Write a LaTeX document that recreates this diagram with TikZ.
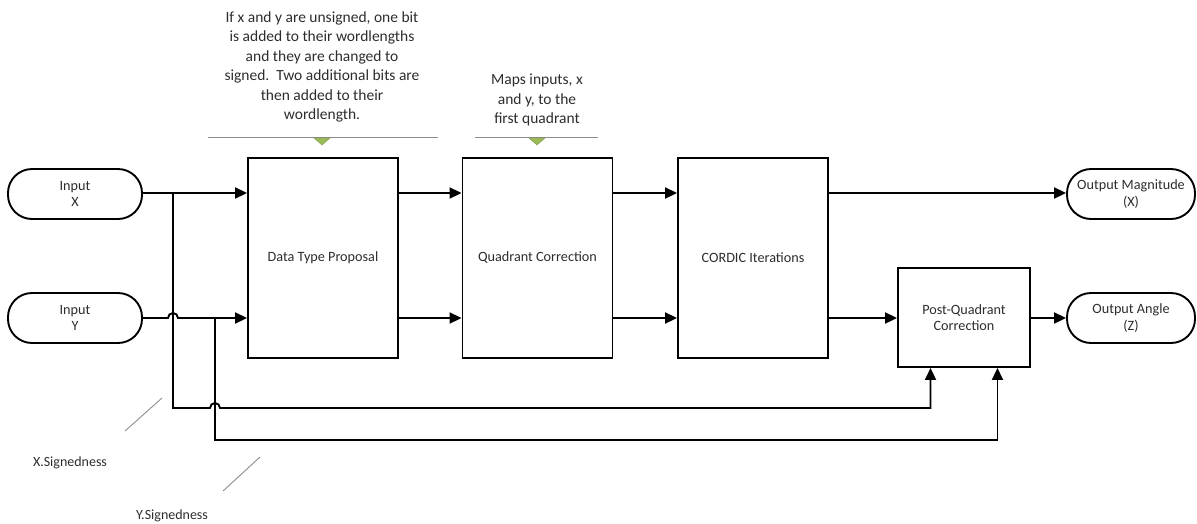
\documentclass[tikz,border=0pt]{standalone}
\usepackage{fontspec}
\setmainfont{Carlito}
\usetikzlibrary{arrows.meta,calc}
\definecolor{txt}{RGB}{45,45,45}
\definecolor{annogreen}{RGB}{155,187,89}
\begin{document}
\begin{tikzpicture}[x=1pt,y=-1pt,
  every node/.style={font=\fontsize{14.2}{16.5}\selectfont, text=txt},
  term/.style={draw=black, line width=1.9pt, rounded corners=24pt, minimum height=50pt, align=center, inner sep=0pt},
  blk/.style={draw=black, line width=1.9pt, align=center, inner sep=0pt},
  ln/.style={draw=black, line width=1.9pt},
  arr/.style={ln, -{Triangle[length=12pt,width=11pt]}},
  anno/.style={draw=black!45, line width=0.9pt},
  tri/.style={fill=annogreen, draw=annogreen!80!black, line width=0.4pt},
  annotext/.style={align=center, font=\fontsize{15.5}{19.5}\selectfont}
]
\useasboundingbox (0,0) rectangle (1197,523);

% terminals
\node[term, minimum width=134pt] (inX) at (75,194) {Input\\X};
\node[term, minimum width=134pt] (inY) at (75,318) {Input\\Y};
\node[term, minimum width=128pt] (outM) at (1131,194) {Output Magnitude\\(X)};
\node[term, minimum width=128pt] (outA) at (1131,318) {Output Angle\\(Z)};

% blocks
\node[blk, minimum width=150pt, minimum height=200pt] (dtp) at (323,258) {Data Type Proposal};
\node[blk, minimum width=150pt, minimum height=200pt] (qc) at (537.5,258) {Quadrant Correction};
\node[blk, minimum width=150pt, minimum height=200pt] (cordic) at (753,258) {CORDIC Iterations};
\node[blk, minimum width=132pt, minimum height=99pt] (pqc) at (964,317.5) {Post-Quadrant\\Correction};

% junctions
\coordinate (jx) at (173,193);
\coordinate (jy) at (215,318);
\coordinate (px) at ($(pqc.south west)!0.25!(pqc.south east)$);
\coordinate (py) at ($(pqc.south west)!0.75!(pqc.south east)$);

% main connectors
\draw[arr] (inX.east |- jx) -- (jx -| dtp.west);
\draw[arr] (inY.east |- jy) -- ([xshift=-5pt]jx |- jy) arc[start angle=180,end angle=0,radius=5pt] -- (jy -| dtp.west);
\draw[arr] (dtp.east |- jx) -- (qc.west |- jx);
\draw[arr] (dtp.east |- jy) -- (qc.west |- jy);
\draw[arr] (qc.east |- jx) -- (cordic.west |- jx);
\draw[arr] (qc.east |- jy) -- (cordic.west |- jy);
\draw[arr] (cordic.east |- jx) -- (outM.west |- jx);
\draw[arr] (cordic.east |- jy) -- (pqc.west |- jy);
\draw[arr] (pqc.east |- jy) -- (outA.west |- jy);

% signedness paths
\coordinate (hx) at (173,408);
\coordinate (hy) at (215,440);
\draw[arr] (jx) -- (hx) -- ([xshift=-5pt]jy |- hx) arc[start angle=180,end angle=0,radius=5pt] -- (px |- hx) -- (px);
\draw[arr] (jy) -- (hy) -- (py |- hy) -- (py);

% signedness labels
\draw[anno] (125,431) -- (162,398);
\draw[anno] (223,491) -- (260,457);
\node[font=\fontsize{14}{16}\selectfont] (xs) at (70,463) {X.Signedness};
\node[font=\fontsize{14}{16}\selectfont] (ys) at (172,516) {Y.Signedness};

% annotations
\node[annotext] (a1) at (322,67) {If x and y are unsigned, one bit\\is added to their wordlengths\\and they are changed to\\signed.\ \ Two additional bits are\\then added to their\\wordlength.};
\draw[anno] (208,137) -- (438,137);
\draw[tri] (314,138) -- (330,138) -- (322,145) -- cycle;

\node[annotext] (a2) at (537,100) {Maps inputs, x\\and y, to the\\first quadrant};
\draw[anno] (475,137) -- (598,137);
\draw[tri] (529,138) -- (545,138) -- (537,145) -- cycle;
\end{tikzpicture}
\end{document}
